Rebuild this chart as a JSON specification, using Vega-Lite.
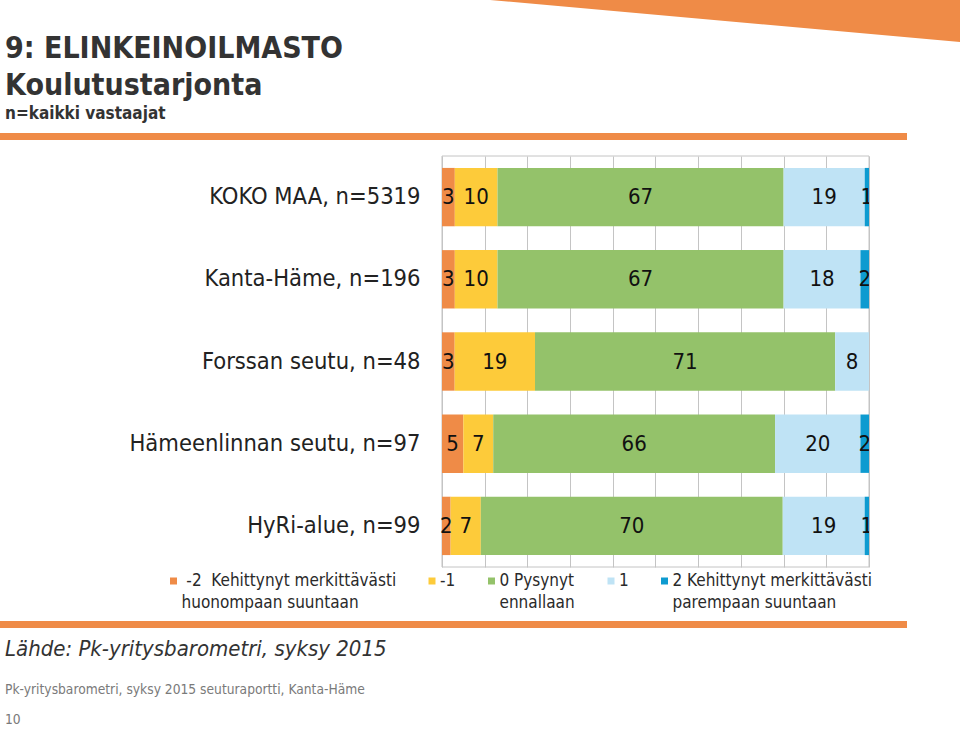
{
  "$schema": "https://vega.github.io/schema/vega-lite/v6.json",
  "padding": 0,
  "background": "white",
  "spacing": 15,
  "config": {"view": {"stroke": null}, "font": "DejaVu Sans Condensed"},
  "vconcat": [
    {
      "width": 907,
      "height": 7,
      "view": {"fill": "#EF8B47", "stroke": null},
      "title": {
        "text": ["9: ELINKEINOILMASTO", "Koulutustarjonta"],
        "subtitle": "n=kaikki vastaajat",
        "anchor": "start",
        "frame": "group",
        "dx": 5,
        "offset": -122,
        "font": "DejaVu Sans Condensed",
        "fontSize": 30,
        "fontWeight": "bold",
        "color": "#333333",
        "lineHeight": 37,
        "subtitleFont": "DejaVu Sans Condensed",
        "subtitleFontSize": 17,
        "subtitleFontWeight": "bold",
        "subtitleColor": "#333333",
        "subtitlePadding": 5
      },
      "data": {"values": [{}]},
      "mark": {"type": "point", "shape": "M-4.17,-1.4L0.53,-1.4L0.53,-0.98Z", "size": 40000, "filled": true, "color": "#EF8B47", "opacity": 1, "strokeWidth": 0},
      "encoding": {
        "x": {"datum": 1, "type": "quantitative", "scale": {"domain": [0, 1]}, "axis": null},
        "y": {"datum": 0, "type": "quantitative", "scale": {"domain": [0, 1]}, "axis": null}
      }
    },
    {
      "spacing": 50,
      "vconcat": [
        {
          "width": 869,
          "height": 411,
          "layer": [
            {
              "data": {"values": [{}]},
              "mark": {"type": "rect", "fill": null, "stroke": "#c4c4c4", "strokeWidth": 1},
              "encoding": {
                "x": {"datum": 0, "type": "quantitative"},
                "x2": {"datum": 1}
              }
            },
            {
              "data": {"name": "bars"},
              "mark": {"type": "bar"},
              "encoding": {
                "x": {
                  "field": "value", "type": "quantitative", "stack": "normalize",
                  "scale": {"domain": [-1.0351, 1], "nice": false, "zero": false},
                  "axis": {"values": [0, 0.1, 0.2, 0.3, 0.4, 0.5, 0.6, 0.7, 0.8, 0.9, 1], "grid": true, "gridColor": "#c4c4c4", "labels": false, "ticks": false, "domain": false, "title": null}
                },
                "y": {
                  "field": "region", "type": "nominal",
                  "sort": ["KOKO MAA, n=5319", "Kanta-Häme, n=196", "Forssan seutu, n=48", "Hämeenlinnan seutu, n=97", "HyRi-alue, n=99"],
                  "scale": {"paddingInner": 0.29, "paddingOuter": 0.145},
                  "axis": {"title": null, "offset": -442, "labelPadding": 22, "ticks": false, "domain": false, "grid": false, "labelFontSize": 23.5, "labelFont": "DejaVu Sans Condensed", "labelColor": "#222222", "labelLimit": 0}
                },
                "color": {
                  "field": "cat", "type": "nominal",
                  "scale": {
                    "domain": ["\u200b\u00a0-2\u00a0 Kehittynyt merkittävästi|huonompaan suuntaan", "-1|", "0 Pysynyt|ennallaan", "1|", "2 Kehittynyt merkittävästi|parempaan suuntaan"],
                    "range": ["#EF8B47", "#FDCB3A", "#94C26A", "#BFE3F5", "#0E9BD0"]
                  },
                  "legend": {
                    "orient": "none", "legendX": 163.5, "legendY": 430, "direction": "horizontal", "columns": 5,
                    "title": null, "symbolType": "M-0.35,0.45L0.35,0.45L0.35,1.15L-0.35,1.15Z", "symbolSize": 400, "symbolStrokeWidth": 0,
                    "labelFont": "DejaVu Sans Condensed", "labelFontSize": 17, "labelColor": "#2a2a2a", "labelLimit": 0,
                    "columnPadding": 25.5, "labelOffset": -2, "labelExpr": "split(datum.label, '|')", "labelBaseline": "top", "padding": 0,
                    "encode": {"labels": {"update": {"lineHeight": {"value": 22}}}}
                  }
                },
                "order": {"field": "k", "type": "quantitative"}
              }
            },
            {
              "data": {"name": "bars"},
              "mark": {"type": "text", "fontSize": 22, "font": "DejaVu Sans Condensed", "color": "#111111", "clip": true},
              "encoding": {
                "x": {"field": "value", "type": "quantitative", "stack": "normalize", "bandPosition": 0.5},
                "y": {"field": "region", "type": "nominal", "sort": ["KOKO MAA, n=5319", "Kanta-Häme, n=196", "Forssan seutu, n=48", "Hämeenlinnan seutu, n=97", "HyRi-alue, n=99"]},
                "detail": {"field": "k"},
                "order": {"field": "k", "type": "quantitative"},
                "text": {"field": "value", "type": "quantitative"}
              }
            }
          ]
        },
        {
          "width": 907,
          "height": 7,
          "view": {"fill": "#EF8B47", "stroke": null},
          "title": {
            "text": "Lähde: Pk-yritysbarometri, syksy 2015",
            "orient": "bottom",
            "anchor": "start",
            "frame": "group",
            "dx": 5,
            "offset": 9,
            "font": "DejaVu Sans Condensed",
            "fontSize": 22,
            "fontStyle": "italic",
            "fontWeight": "normal",
            "color": "#333333",
            "subtitle": ["Pk-yritysbarometri, syksy 2015 seuturaportti, Kanta-Häme", "10"],
            "subtitleFont": "DejaVu Sans Condensed",
            "subtitleFontSize": 13.7,
            "subtitleColor": "#7a7a7a",
            "subtitleLineHeight": 30,
            "subtitlePadding": 22
          },
          "data": {"values": [{}]},
          "mark": {"type": "text"},
          "encoding": {"text": {"value": ""}}
        }
      ]
    }
  ],
  "datasets": {
    "bars": [
      {"region": "KOKO MAA, n=5319", "k": -2, "cat": "\u200b\u00a0-2\u00a0 Kehittynyt merkittävästi|huonompaan suuntaan", "value": 3},
      {"region": "KOKO MAA, n=5319", "k": -1, "cat": "-1|", "value": 10},
      {"region": "KOKO MAA, n=5319", "k": 0, "cat": "0 Pysynyt|ennallaan", "value": 67},
      {"region": "KOKO MAA, n=5319", "k": 1, "cat": "1|", "value": 19},
      {"region": "KOKO MAA, n=5319", "k": 2, "cat": "2 Kehittynyt merkittävästi|parempaan suuntaan", "value": 1},
      {"region": "Kanta-Häme, n=196", "k": -2, "cat": "\u200b\u00a0-2\u00a0 Kehittynyt merkittävästi|huonompaan suuntaan", "value": 3},
      {"region": "Kanta-Häme, n=196", "k": -1, "cat": "-1|", "value": 10},
      {"region": "Kanta-Häme, n=196", "k": 0, "cat": "0 Pysynyt|ennallaan", "value": 67},
      {"region": "Kanta-Häme, n=196", "k": 1, "cat": "1|", "value": 18},
      {"region": "Kanta-Häme, n=196", "k": 2, "cat": "2 Kehittynyt merkittävästi|parempaan suuntaan", "value": 2},
      {"region": "Forssan seutu, n=48", "k": -2, "cat": "\u200b\u00a0-2\u00a0 Kehittynyt merkittävästi|huonompaan suuntaan", "value": 3},
      {"region": "Forssan seutu, n=48", "k": -1, "cat": "-1|", "value": 19},
      {"region": "Forssan seutu, n=48", "k": 0, "cat": "0 Pysynyt|ennallaan", "value": 71},
      {"region": "Forssan seutu, n=48", "k": 1, "cat": "1|", "value": 8},
      {"region": "Hämeenlinnan seutu, n=97", "k": -2, "cat": "\u200b\u00a0-2\u00a0 Kehittynyt merkittävästi|huonompaan suuntaan", "value": 5},
      {"region": "Hämeenlinnan seutu, n=97", "k": -1, "cat": "-1|", "value": 7},
      {"region": "Hämeenlinnan seutu, n=97", "k": 0, "cat": "0 Pysynyt|ennallaan", "value": 66},
      {"region": "Hämeenlinnan seutu, n=97", "k": 1, "cat": "1|", "value": 20},
      {"region": "Hämeenlinnan seutu, n=97", "k": 2, "cat": "2 Kehittynyt merkittävästi|parempaan suuntaan", "value": 2},
      {"region": "HyRi-alue, n=99", "k": -2, "cat": "\u200b\u00a0-2\u00a0 Kehittynyt merkittävästi|huonompaan suuntaan", "value": 2},
      {"region": "HyRi-alue, n=99", "k": -1, "cat": "-1|", "value": 7},
      {"region": "HyRi-alue, n=99", "k": 0, "cat": "0 Pysynyt|ennallaan", "value": 70},
      {"region": "HyRi-alue, n=99", "k": 1, "cat": "1|", "value": 19},
      {"region": "HyRi-alue, n=99", "k": 2, "cat": "2 Kehittynyt merkittävästi|parempaan suuntaan", "value": 1}
    ]
  }
}
